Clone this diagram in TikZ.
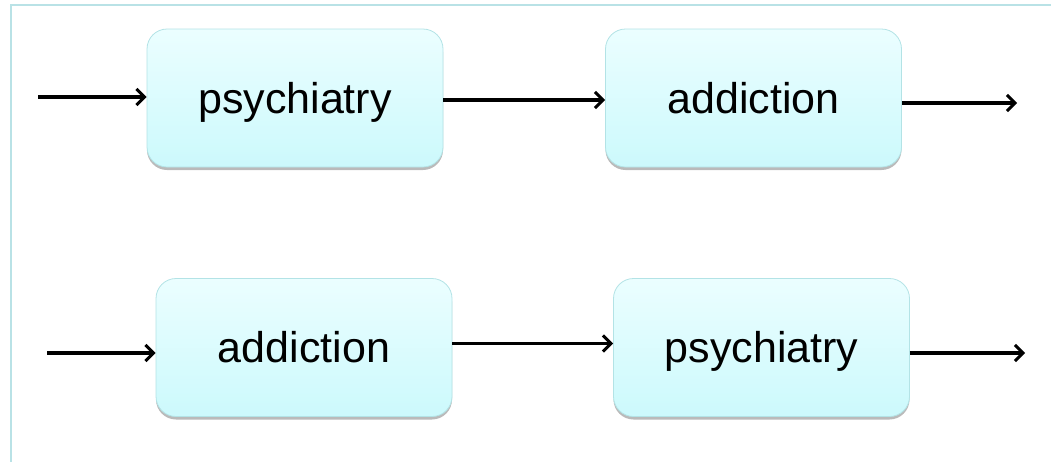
\documentclass[tikz,border=0pt]{standalone}
\usepackage{fontspec}
\setmainfont{Liberation Sans}
\usetikzlibrary{arrows.meta,shadows}
\definecolor{framecol}{HTML}{B9E2E6}
\definecolor{boxtop}{HTML}{EBFEFF}
\definecolor{boxbot}{HTML}{CCF9FC}
\definecolor{boxline}{HTML}{B3E3E6}
\tikzset{
  stagebox/.style={draw=boxline, line width=0.8pt, rounded corners=20pt,
    top color=boxtop, bottom color=boxbot,
    minimum width=296pt, minimum height=138pt, inner sep=0pt,
    text height=34pt, text depth=4pt,
    font=\fontsize{43}{50}\selectfont,
    drop shadow={shadow xshift=0pt, shadow yshift=-3pt, opacity=0.45, fill=black!60}},
  flow/.style={line width=3.4pt, -{Straight Barb[length=8pt,width=16pt,line width=3pt]}}
}
\begin{document}
\begin{tikzpicture}[x=1pt,y=-1pt]
\useasboundingbox (0,0) rectangle (1051,461);
\draw[framecol, line width=1.5pt] (1060,5) -- (11,5) -- (11,470);
% top row
\node[stagebox] (p1) at (295,98) {psychiatry};
\node[stagebox] (a1) at (753.5,98) {addiction};
\coordinate (in1) at (38,97);
\coordinate (out1) at (1017,103);
\draw[flow] (in1) -- (in1 -| p1.west);
\draw[flow] ([yshift=-2pt]p1.east) -- ([yshift=-2pt]a1.west);
\draw[flow] (out1 -| a1.east) -- (out1);
% bottom row
\node[stagebox] (a2) at (304,347.5) {addiction};
\node[stagebox] (p2) at (761.5,347.5) {psychiatry};
\coordinate (in2) at (47,353);
\coordinate (out2) at (1025,353);
\draw[flow] (in2) -- (in2 -| a2.west);
\draw[flow] ([yshift=4pt]a2.east) -- ([yshift=4pt]p2.west);
\draw[flow] (out2 -| p2.east) -- (out2);
\end{tikzpicture}
\end{document}
